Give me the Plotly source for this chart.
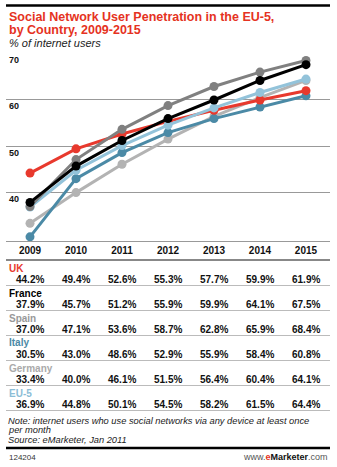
import plotly.graph_objects as go

years = [2009, 2010, 2011, 2012, 2013, 2014, 2015]
year_labels = ["2009", "2010", "2011", "2012", "2013", "2014", "2015"]
uk = [44.2, 49.4, 52.6, 55.3, 57.7, 59.9, 61.9]
france = [37.9, 45.7, 51.2, 55.9, 59.9, 64.1, 67.5]
spain = [37.0, 47.1, 53.6, 58.7, 62.8, 65.9, 68.4]
italy = [30.5, 43.0, 48.6, 52.9, 55.9, 58.4, 60.8]
germany = [33.4, 40.0, 46.1, 51.5, 56.4, 60.4, 64.1]
eu5 = [36.9, 44.8, 50.1, 54.5, 58.2, 61.5, 64.4]
y_ticks = [40, 50, 60, 70]

title_lines = ["Social Network User Penetration in the EU-5,", "by Country, 2009-2015"]
subtitle = "% of internet users"
note_lines = ["Note: internet users who use social networks via any device at least once",
              "per month", "Source: eMarketer, Jan 2011"]

series = [
    ("UK", uk, "#e8392d", "#e8392d"),
    ("France", france, "#000000", "#000000"),
    ("Spain", spain, "#808080", "#999999"),
    ("Italy", italy, "#4b8aa6", "#4b8aa6"),
    ("Germany", germany, "#b3b3b3", "#aaaaaa"),
    ("EU-5", eu5, "#93c3da", "#8bbdd6"),
]
draw_order = ["Germany", "Italy", "UK", "EU-5", "Spain", "France"]

W, H = 337, 467
L, R, T, B = 6, 7, 53, 226
PW = W - L - R
PH = H - T - B
FONT = "Liberation Sans, Arial, sans-serif"


def px(x):
    return (x - L) / PW


def py(y):
    return (H - B - y) / PH


fig = go.Figure()
lookup = {s[0]: s for s in series}
for name in draw_order:
    _, vals, lc, _ = lookup[name]
    fig.add_trace(go.Scatter(
        x=years, y=vals, mode="lines+markers", name=name,
        line=dict(color=lc, width=3),
        marker=dict(color=lc, size=9),
        showlegend=False, cliponaxis=False,
    ))

shapes = []
shapes.append(dict(type="line", xref="paper", yref="paper", x0=px(6), x1=px(330),
                   y0=py(5.5), y1=py(5.5), line=dict(color="#000", width=2.5)))
shapes.append(dict(type="line", xref="paper", yref="paper", x0=px(6), x1=px(330),
                   y0=py(260), y1=py(260), line=dict(color="#888", width=2)))
for i in range(6):
    yy = 285.5 + 25 * i
    shapes.append(dict(type="line", xref="paper", yref="paper", x0=px(6), x1=px(330),
                       y0=py(yy), y1=py(yy), line=dict(color="#bbb", width=1)))
shapes.append(dict(type="line", xref="paper", yref="paper", x0=px(6), x1=px(330),
                   y0=py(448), y1=py(448), line=dict(color="#000", width=2.5)))

ann = []
for i, t in enumerate(title_lines):
    ann.append(dict(text="<b>%s</b>" % t, xref="paper", yref="paper", x=px(7),
                    y=py(16.5 + 13 * i), xanchor="left", yanchor="middle", showarrow=False,
                    font=dict(family=FONT, size=12.5, color="#e53222")))
ann.append(dict(text="<i>%s</i>" % subtitle, xref="paper", yref="paper",
                x=px(7), y=py(43), xanchor="left", yanchor="middle", showarrow=False,
                font=dict(family=FONT, size=11, color="#222")))
for v in y_ticks:
    ann.append(dict(text="<b>%d</b>" % v, xref="paper", yref="y", x=px(7), y=v,
                    yshift=-6.5, xanchor="left", yanchor="middle", showarrow=False,
                    font=dict(family=FONT, size=9, color="#111")))

for i, (name, vals, lc, tc) in enumerate(series):
    ly = 268 + 25 * i
    ann.append(dict(text="<b>%s</b>" % name, xref="paper", yref="paper", x=px(7), y=py(ly),
                    xanchor="left", yanchor="middle", showarrow=False,
                    font=dict(family=FONT, size=10, color=tc)))
    for yr, v in zip(years, vals):
        ann.append(dict(text="<b>%.1f%%</b>" % v, xref="x", yref="paper", x=yr, y=py(ly + 11),
                        xanchor="center", yanchor="middle", showarrow=False,
                        font=dict(family=FONT, size=10, color="#111")))

for i, t in enumerate(note_lines):
    ann.append(dict(text="<i>%s</i>" % t, xref="paper", yref="paper", x=px(6),
                    y=py(420.8 + 9.4 * i), xanchor="left", yanchor="middle", showarrow=False,
                    font=dict(family=FONT, size=9.3, color="#222")))
ann.append(dict(text="124204", xref="paper", yref="paper", x=px(7), y=py(457),
                xanchor="left", yanchor="middle", showarrow=False,
                font=dict(family=FONT, size=8, color="#333")))
ann.append(dict(text="<span style='color:#555'>www.</span><b><span style='color:#e53222'>e</span>Marketer</b><span style='color:#555'>.com</span>",
                xref="paper", yref="paper", x=px(330), y=py(457),
                xanchor="right", yanchor="middle", showarrow=False,
                font=dict(family=FONT, size=9, color="#111")))

fig.update_layout(
    width=W, height=H,
    margin=dict(l=L, r=R, t=T, b=B, pad=0),
    paper_bgcolor="white", plot_bgcolor="white",
    shapes=shapes, annotations=ann,
    xaxis=dict(range=[2008.478, 2015.522], tickvals=years,
               ticktext=["<b>%s</b>" % t for t in year_labels],
               tickfont=dict(family=FONT, size=10, color="#111"),
               showgrid=False, zeroline=False, showline=True, linecolor="#999", linewidth=1,
               ticks="", fixedrange=True),
    yaxis=dict(range=[29.6, 70], tickvals=y_ticks, showticklabels=False,
               showgrid=True, gridcolor="#999", gridwidth=1, zeroline=False,
               fixedrange=True),
)
fig.write_html("out.html")
